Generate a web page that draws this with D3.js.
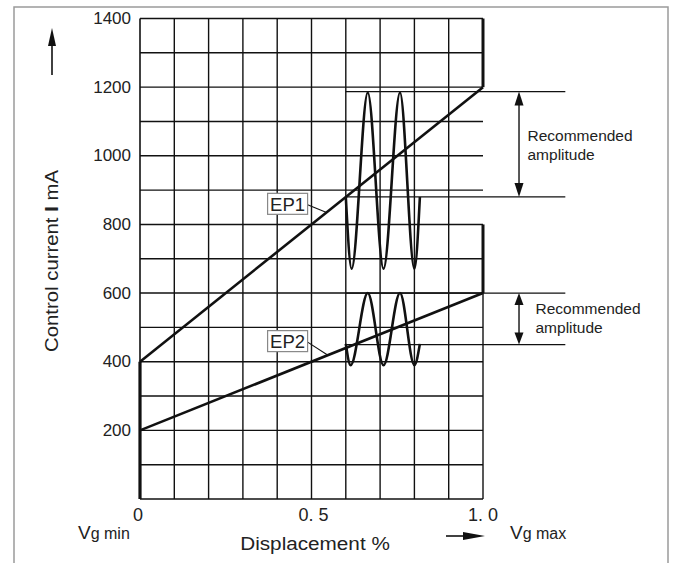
<!DOCTYPE html>
<html><head><meta charset="utf-8">
<script src="https://cdn.jsdelivr.net/npm/d3@7"></script>
<style>
body{margin:0;background:#fff;}
svg text{font-family:"Liberation Sans",Arial,Helvetica,sans-serif;fill:#222;}
</style></head>
<body><svg id="c" width="675" height="563"></svg>
<script>
// ---- data ----
const xTickValues = [0, 0.5, 1.0];
const xTickLabels = ["0", "0. 5", "1. 0"];
const yTickValues = [200, 400, 600, 800, 1000, 1200, 1400];
const ep1Line = [{x: 0, y: 400}, {x: 1, y: 1200}];
const ep2Line = [{x: 0, y: 200}, {x: 1, y: 600}];
const ep1Wave = [
  {x: 0.600, y: 880}, {x: 0.617, y: 671}, {x: 0.664, y: 1184},
  {x: 0.710, y: 671}, {x: 0.758, y: 1184}, {x: 0.800, y: 671}, {x: 0.816, y: 880}
];
const ep2Wave = [
  {x: 0.600, y: 452}, {x: 0.614, y: 390}, {x: 0.664, y: 600},
  {x: 0.710, y: 390}, {x: 0.758, y: 600}, {x: 0.800, y: 390}, {x: 0.816, y: 452}
];
const ep1Amplitude = [880, 1187];
const ep2Amplitude = [450, 600];
const seriesNames = ["EP1", "EP2"];

// ---- layout ----
const svg = d3.select("#c");
const x = d3.scaleLinear().domain([0, 1]).range([140, 483]);
const y = d3.scaleLinear().domain([0, 1400]).range([499, 18.5]);
const ink = "#111";

// frame
svg.append("rect").attr("x", 14).attr("y", 7).attr("width", 654).attr("height", 620)
  .attr("fill", "none").attr("stroke", "#9a9a9a").attr("stroke-width", 1.5);

// grid
const g = svg.append("g");
const gx = x.ticks(10), gy = y.ticks(14);
gx.forEach(v => {
  if (v === 1) return;
  g.append("line").attr("x1", x(v)).attr("x2", x(v)).attr("y1", y(0)).attr("y2", y(1400))
    .attr("stroke", ink).attr("stroke-width", v === 0 ? 1.6 : 1.4);
});
gy.forEach(v => {
  g.append("line").attr("x1", x(0)).attr("x2", x(1)).attr("y1", y(v)).attr("y2", y(v))
    .attr("stroke", ink).attr("stroke-width", 1.4);
});
// right edge segments
const seg = (x0, y0, y1, w) => g.append("line").attr("x1", x(x0)).attr("x2", x(x0))
  .attr("y1", y(y0)).attr("y2", y(y1)).attr("stroke", ink).attr("stroke-width", w);
seg(1, 1200, 1400, 3);
seg(1, 600, 800, 3);
seg(1, 0, 600, 1.4);
seg(0, 0, 400, 3.2);

// amplitude reference lines
[[ep1Amplitude[0]], [ep1Amplitude[1]], [ep2Amplitude[0]], [ep2Amplitude[1]]].forEach(([v]) => {
  g.append("line").attr("x1", x(0.6)).attr("x2", x(1.24)).attr("y1", y(v)).attr("y2", y(v))
    .attr("stroke", ink).attr("stroke-width", 1.3);
});

// characteristic lines
const line = d3.line().x(d => x(d.x)).y(d => y(d.y));
[ep1Line, ep2Line].forEach(d => svg.append("path").attr("d", line(d))
  .attr("fill", "none").attr("stroke", ink).attr("stroke-width", 2.6));

// waves
const wave = d3.line().x(d => x(d.x)).y(d => y(d.y)).curve(d3.curveMonotoneX);
[ep1Wave, ep2Wave].forEach(d => svg.append("path").attr("d", wave(d))
  .attr("fill", "none").attr("stroke", ink).attr("stroke-width", 2.6));

// labels EP1 / EP2
const labelPos = [{bx: 0.372, by: 860, lx: 0.544, ly: 835}, {bx: 0.372, by: 460, lx: 0.548, ly: 419}];
seriesNames.forEach((name, i) => {
  const p = labelPos[i];
  const bx = x(p.bx), byc = y(p.by);
  svg.append("line").attr("x1", bx + 40).attr("y1", byc + 1).attr("x2", x(p.lx)).attr("y2", y(p.ly))
    .attr("stroke", ink).attr("stroke-width", 1.1);
  svg.append("rect").attr("x", bx).attr("y", byc - 10.5).attr("width", 40).attr("height", 21)
    .attr("fill", "#fff").attr("stroke", "#888").attr("stroke-width", 1.2);
  svg.append("text").attr("x", bx + 20).attr("y", byc + 7).attr("text-anchor", "middle")
    .attr("font-size", 18.5).text(name);
});

// recommended amplitude arrows
function dblArrow(v0, v1, headLen) {
  const ax = x(1.105), top = y(v1), bot = y(v0);
  svg.append("line").attr("x1", ax).attr("x2", ax).attr("y1", top + headLen - 2).attr("y2", bot - headLen + 2)
    .attr("stroke", ink).attr("stroke-width", 1.4);
  svg.append("path").attr("d", `M${ax},${top}L${ax - 4.5},${top + headLen}L${ax + 4.5},${top + headLen}Z`).attr("fill", ink);
  svg.append("path").attr("d", `M${ax},${bot}L${ax - 4.5},${bot - headLen}L${ax + 4.5},${bot - headLen}Z`).attr("fill", ink);
}
dblArrow(ep1Amplitude[0], ep1Amplitude[1], 14);
dblArrow(ep2Amplitude[0], ep2Amplitude[1], 12);
function recText(tx, ty) {
  svg.append("text").attr("x", tx).attr("y", ty).attr("font-size", 15.5).text("Recommended");
  svg.append("text").attr("x", tx).attr("y", ty + 19).attr("font-size", 15.5).text("amplitude");
}
recText(527.5, 140.5);
recText(535.5, 314);

// y tick labels
yTickValues.forEach(v => svg.append("text").attr("x", 131).attr("y", y(v)).attr("dy", "0.33em")
  .attr("text-anchor", "end").attr("font-size", 17).text(v));
// x tick labels
xTickValues.forEach((v, i) => svg.append("text").attr("x", x(v) + (i === 0 ? -2 : (i === 1 ? 2 : 0)))
  .attr("y", 521).attr("text-anchor", "middle").attr("font-size", 18).text(xTickLabels[i]));

// y axis title
const yt = svg.append("text").attr("transform", "translate(58,261) rotate(-90) scale(1.1,1)")
  .attr("text-anchor", "middle").attr("font-size", 18.5);
yt.append("tspan").text("Control current ");
yt.append("tspan").attr("font-weight", "bold").text("I");
yt.append("tspan").text(" mA");

// x axis title
svg.append("text").attr("transform", "translate(315,550) scale(1.12,1)").attr("text-anchor", "middle")
  .attr("font-size", 18.5).text("Displacement %");

// Vg min / Vg max
function vg(tx, word) {
  const t = svg.append("text").attr("x", tx).attr("y", 539);
  t.append("tspan").attr("font-size", 19).text("V");
  t.append("tspan").attr("font-size", 16).text("g " + word);
}
vg(78, "min");
vg(510, "max");

// axis direction arrows
svg.append("line").attr("x1", 446).attr("x2", 466).attr("y1", 536).attr("y2", 536).attr("stroke", ink).attr("stroke-width", 1.6);
svg.append("path").attr("d", "M485,536L463,532L463,540Z").attr("fill", ink);
svg.append("line").attr("x1", 52).attr("x2", 52).attr("y1", 75).attr("y2", 42).attr("stroke", ink).attr("stroke-width", 1.6);
svg.append("path").attr("d", "M52,28L48,46L56,46Z").attr("fill", ink);
</script></body></html>
